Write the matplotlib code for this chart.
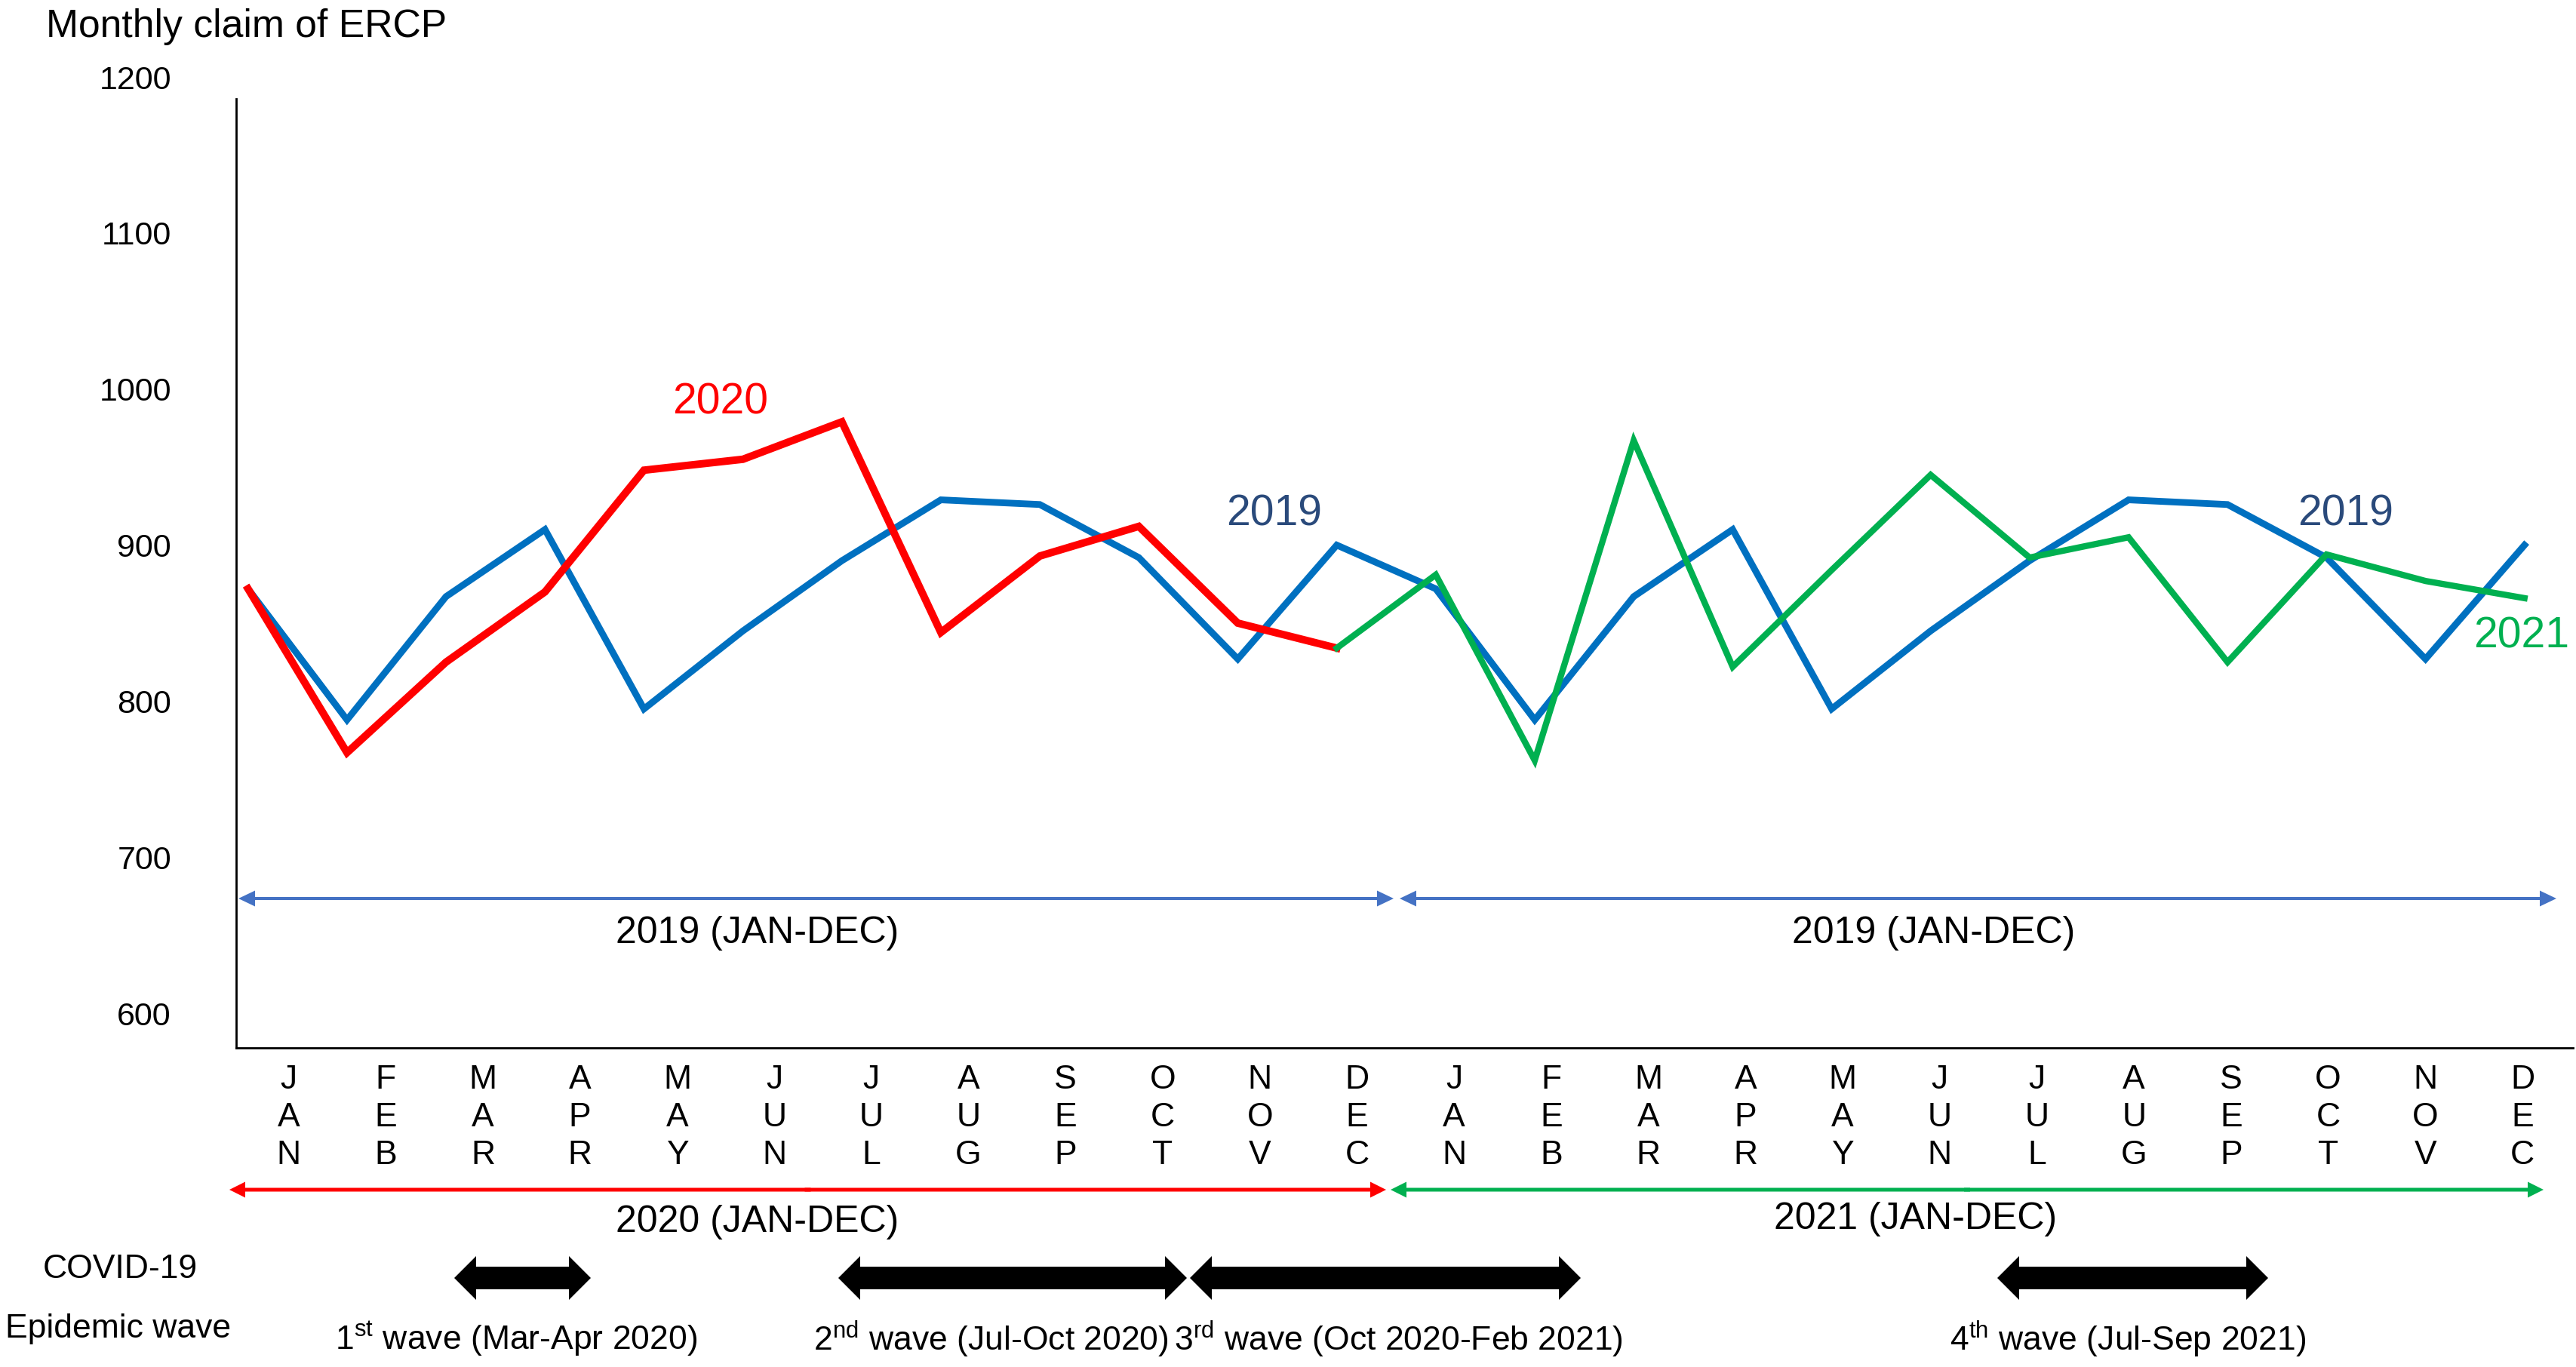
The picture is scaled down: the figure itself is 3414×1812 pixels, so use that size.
import numpy as np
import matplotlib
matplotlib.use("Agg")
import matplotlib.pyplot as plt
from matplotlib.patches import FancyArrow

plt.rcParams['font.family'] = ['Liberation Sans', 'DejaVu Sans']
plt.rcParams['mathtext.default'] = 'regular'

# ---------------- data ----------------
month_labels = ["J\nA\nN", "F\nE\nB", "M\nA\nR", "A\nP\nR", "M\nA\nY", "J\nU\nN",
                "J\nU\nL", "A\nU\nG", "S\nE\nP", "O\nC\nT", "N\nO\nV", "D\nE\nC"]
claims_2019 = [872, 788, 867, 910, 795, 845, 890, 929, 926, 892, 827, 900]
claims_2020 = [872, 767, 825, 870, 948, 955, 979, 844, 893, 912, 850, 834]
claims_2021 = [881, 762, 967, 822, 884, 945, 892, 905, 825, 894, 877, 866]
y_ticks = [600, 700, 800, 900, 1000, 1100, 1200]

BLUE = '#0070C0'
RED = '#FF0000'
GREEN = '#00B050'
NAVY = '#2A4A7B'
ARROW_BLUE = '#4472C4'

W, H, DPI = 3414, 1812, 200
fig = plt.figure(figsize=(W / DPI, H / DPI), dpi=DPI)

# main axes (pixel layout measured from reference)
ax_left, ax_right, ax_top, ax_bot = 313, 3410, 102, 1389
ax = fig.add_axes([ax_left / W, 1 - ax_bot / H, (ax_right - ax_left) / W, (ax_bot - ax_top) / H])

n = len(claims_2019)
x_all = np.arange(2 * n)
blue_vals = claims_2019 + claims_2019
ax.plot(x_all, blue_vals, color=BLUE, lw=3.2, solid_joinstyle='miter', zorder=3)
ax.plot(np.arange(n), claims_2020, color=RED, lw=3.6, solid_joinstyle='miter', zorder=4)
ax.plot(np.arange(n - 1, 2 * n), [claims_2020[-1]] + claims_2021, color=GREEN, lw=3.0,
        solid_joinstyle='miter', zorder=5)

ax.set_xlim(-0.12, 23.49)
ax.set_ylim(577.8, 1200)
ax.set_yticks(y_ticks)
ax.set_yticklabels([str(v) for v in y_ticks])
ax.tick_params(axis='y', length=0, pad=31, labelsize=15.5)
label_pos = np.linspace(0.41, 22.98, 2 * n)
ax.set_xticks(label_pos)
ax.set_xticklabels(month_labels + month_labels, linespacing=1.28)
ax.tick_params(axis='x', length=0, pad=8, labelsize=16)
for s in ['top', 'right']:
    ax.spines[s].set_visible(False)
ax.spines['left'].set_bounds(577.8, 1186)
ax.spines['left'].set_linewidth(1.0)
ax.spines['bottom'].set_linewidth(1.0)

# series labels
ax.text(4.77, 991.5, "2020", color=RED, fontsize=20.5, ha='center', va='center')
ax.text(10.37, 920, "2019", color=NAVY, fontsize=20.5, ha='center', va='center')
ax.text(21.19, 920, "2019", color=NAVY, fontsize=20.5, ha='center', va='center')
ax.text(22.97, 841.6, "2021", color=GREEN, fontsize=20.5, ha='center', va='center', clip_on=False)

# overlay in pixel coordinates for annotations
ov = fig.add_axes([0, 0, 1, 1])
ov.set_xlim(0, W)
ov.set_ylim(H, 0)
ov.axis('off')
ov.patch.set_visible(False)


def double_arrow(x0, x1, y, color, width, head_w, head_l):
    mid = (x0 + x1) / 2
    ov.add_patch(FancyArrow(mid + 4, y, x0 - mid - 4, 0, width=width, head_width=head_w,
                            head_length=head_l, length_includes_head=True, color=color, lw=0))
    ov.add_patch(FancyArrow(mid - 4, y, x1 - mid + 4, 0, width=width, head_width=head_w,
                            head_length=head_l, length_includes_head=True, color=color, lw=0))


# year range arrows
double_arrow(316, 1847, 1191, ARROW_BLUE, 4, 21, 22)
double_arrow(1855, 3388, 1191, ARROW_BLUE, 4, 21, 22)
double_arrow(304, 1837, 1577, RED, 5, 21, 21)
double_arrow(1843, 3371, 1577, GREEN, 5, 21, 21)

ov.text(1004, 1237, "2019 (JAN-DEC)", fontsize=18, ha='center', va='center')
ov.text(2563, 1237, "2019 (JAN-DEC)", fontsize=18, ha='center', va='center')
ov.text(1004, 1620, "2020 (JAN-DEC)", fontsize=18, ha='center', va='center')
ov.text(2539, 1616, "2021 (JAN-DEC)", fontsize=18, ha='center', va='center')

# epidemic waves
waves = [(602, 783), (1111, 1573), (1577, 2095), (2647, 3006)]
for a, b in waves:
    double_arrow(a, b, 1694, 'black', 30, 58, 29)

ov.text(159, 1683, "COVID-19", fontsize=16, ha='center', va='center')
ov.text(157, 1761, "Epidemic wave", fontsize=16, ha='center', va='center')
wave_texts = [(684, "1$^{st}$ wave (Mar-Apr 2020)"),
              (1313, "2$^{nd}$ wave (Jul-Oct 2020)"),
              (1853, "3$^{rd}$ wave (Oct 2020-Feb 2021)"),
              (2820, "4$^{th}$ wave (Jul-Sep 2021)")]
for x, t in wave_texts:
    ov.text(x, 1775, t, fontsize=16, ha='center', va='center')

ov.text(61, 35, "Monthly claim of ERCP", fontsize=18.6, ha='left', va='center')

fig.savefig("out.png", dpi=DPI)
